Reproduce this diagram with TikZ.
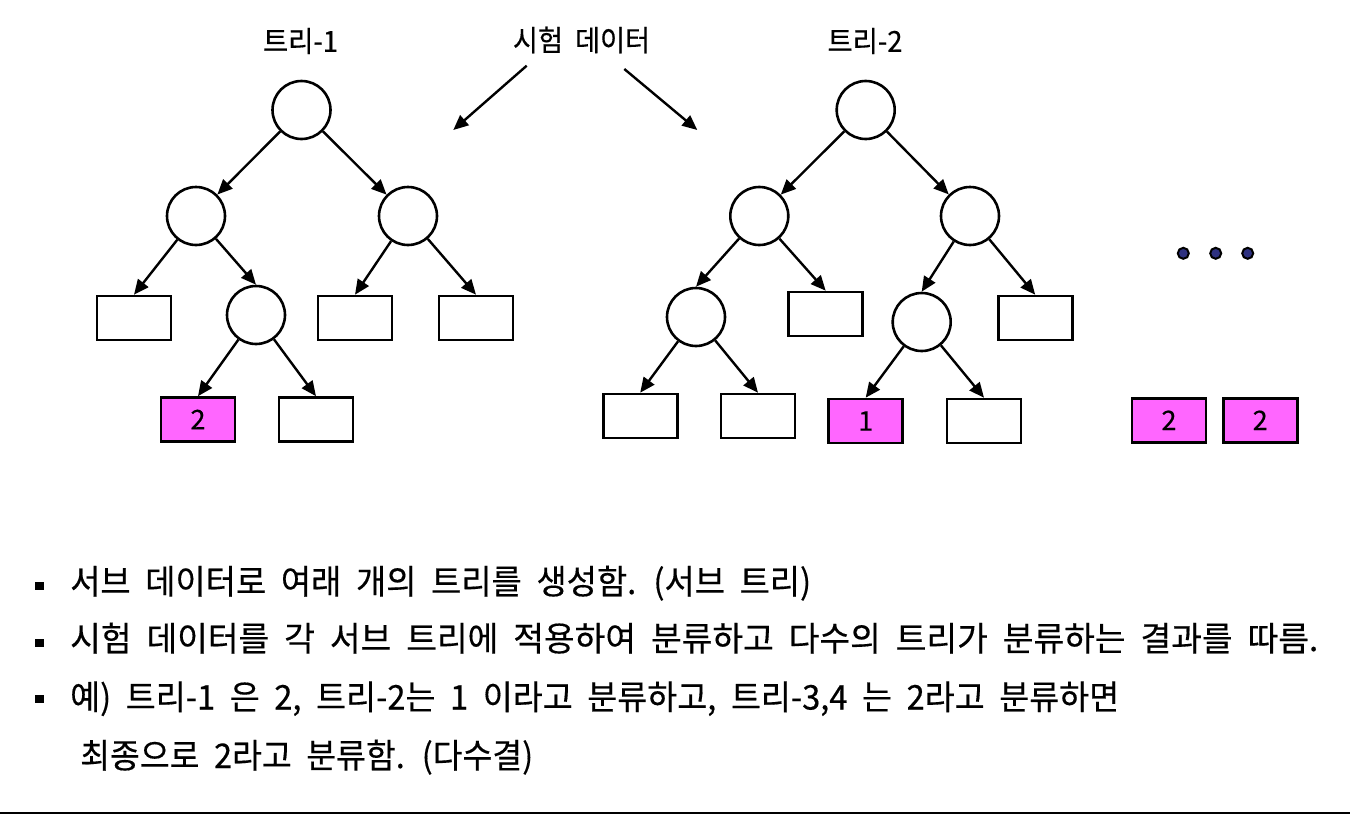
\documentclass[tikz,border=0pt]{standalone}
\usepackage{graphicx}
\usepackage{fontspec}
\setmainfont{Noto Sans CJK KR}
\newfontfamily\krbody[WordSpace=2.3,FakeBold=0.4]{Noto Sans CJK KR}
\newfontfamily\krtitle[WordSpace=2,FakeBold=0.4]{Noto Sans CJK KR}
\usetikzlibrary{arrows.meta}
\definecolor{leafpink}{HTML}{FF66FF}
\definecolor{dotblue}{HTML}{2E3180}
\newcommand{\fitw}[2]{\resizebox{#1}{\height}{#2}}
\begin{document}
\begin{tikzpicture}[x=1pt,y=-1pt,
  inner/.style={circle,draw,line width=2.6pt,minimum size=58pt,inner sep=0pt,fill=white},
  leaf/.style={rectangle,draw,line width=2.6pt,minimum width=74pt,minimum height=44pt,inner sep=0pt,fill=white,font=\krtitle\fontsize{27}{27}\selectfont},
  hit/.style={leaf,fill=leafpink},
  edge/.style={-{Triangle[length=15pt,width=13pt]},line width=2.4pt},
  title/.style={inner sep=0pt,font=\krtitle\fontsize{29}{29}\selectfont},
  body/.style={anchor=base west,inner sep=0pt,font=\krbody\fontsize{34}{34}\selectfont},
  bullet/.style={rectangle,fill=black,minimum width=9pt,minimum height=8pt,inner sep=0pt},
  dot/.style={circle,draw,fill=dotblue,line width=2pt,minimum size=11pt,inner sep=0pt}]
\useasboundingbox[fill=white] (0,0) rectangle (1350,814);

% titles
\node[title] (t1) at (300.5,41) {\fitw{75pt}{트리-1}};
\node[title] (td) at (581.5,40) {\fitw{137pt}{시험 데이터}};
\node[title] (t2) at (865,41) {\fitw{75pt}{트리-2}};
\coordinate (s1) at (526.7,65.7);
\coordinate (e1) at (453.3,130);
\coordinate (s2) at (624.3,69);
\coordinate (e2) at (697.3,130);
\draw[edge] (s1) -- (e1);
\draw[edge] (s2) -- (e2);

% tree 1
\node[inner] (r1) at (301.5,110) {};
\node[inner] (a1) at (196,216) {};
\node[inner] (b1) at (408,216) {};
\node[leaf] (c1) at (134,318) {};
\node[inner] (d1) at (256,315) {};
\node[leaf] (e1n) at (355,318) {};
\node[leaf] (f1) at (476,318) {};
\node[hit] (g1) at (198,419.5) {2};
\node[leaf] (h1) at (316,419.5) {};
\draw[edge] (r1) -- (a1);
\draw[edge] (r1) -- (b1);
\draw[edge] (a1) -- (c1.north);
\draw[edge] (a1) -- (d1.north);
\draw[edge] (b1) -- (e1n.north);
\draw[edge] (b1) -- (f1.north);
\draw[edge] (d1) -- (g1.north);
\draw[edge] (d1) -- (h1.north);

% tree 2
\node[inner] (r2) at (865.7,110) {};
\node[inner] (a2) at (759.3,216) {};
\node[inner] (b2) at (970,216) {};
\node[inner] (c2) at (696,317) {};
\node[leaf] (d2) at (825.7,314) {};
\node[inner] (e2n) at (921.7,322) {};
\node[leaf] (f2) at (1035.2,318) {};
\node[leaf] (g2) at (640.2,416) {};
\node[leaf] (h2) at (758,416) {};
\node[hit] (i2) at (865.7,421) {1};
\node[leaf] (j2) at (984,421) {};
\draw[edge] (r2) -- (a2);
\draw[edge] (r2) -- (b2);
\draw[edge] (a2) -- (c2.north);
\draw[edge] (a2) -- (d2.north);
\draw[edge] (b2) -- (e2n.north);
\draw[edge] (b2) -- (f2.north);
\draw[edge] (c2) -- (g2.north);
\draw[edge] (c2) -- (h2.north);
\draw[edge] (e2n) -- (i2.north);
\draw[edge] (e2n) -- (j2.north);

% more trees
\node[dot] (p1) at (1183.3,253.3) {};
\node[dot] (p2) at (1215.7,253.3) {};
\node[dot] (p3) at (1247.7,253.3) {};
\node[hit] (k3) at (1169,420.3) {2};
\node[hit] (k4) at (1260.2,420.3) {2};

% text
\node[bullet] (b1m) at (39.5,585.5) {};
\node[bullet] (b2m) at (39.5,643) {};
\node[bullet] (b3m) at (39.5,699) {};
\node[body] (l1) at (70,594) {\fitw{741pt}{서브 데이터로 여래 개의 트리를 생성함. (서브 트리)}};
\node[body] (l2) at (70,651) {\fitw{1248pt}{시험 데이터를 각 서브 트리에 적용하여 분류하고 다수의 트리가 분류하는 결과를 따름.}};
\node[body] (l3) at (70,709.5) {\fitw{1049pt}{예) 트리-1 은 2, 트리-2는 1 이라고 분류하고, 트리-3,4 는 2라고 분류하면}};
\node[body] (l4) at (80,768) {\fitw{453pt}{최종으로 2라고 분류함. (다수결)}};

\draw[line width=2pt] (0,813) -- (1350,813);
\end{tikzpicture}
\end{document}
